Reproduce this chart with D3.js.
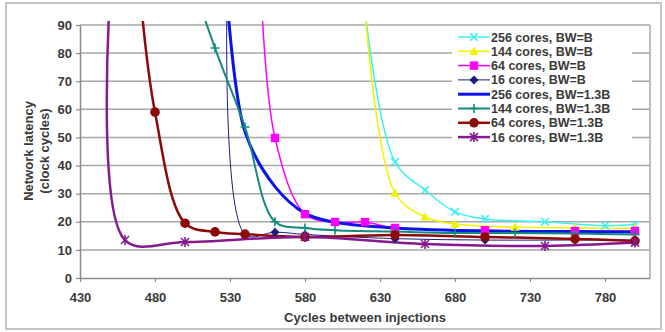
<!DOCTYPE html>
<html>
<head>
<meta charset="utf-8">
<script src="https://cdn.jsdelivr.net/npm/d3@7"></script>
<style>
  body { margin: 0; background: #fff; }
  svg { display: block; font-family: "Liberation Sans", Arial, sans-serif; }
</style>
</head>
<body>
<div id="chart"></div>
<script>
// series data (x = cycles between injections, y = latency)
const seriesNames = [
    "256 cores, BW=B", "144 cores, BW=B", "64 cores, BW=B", "16 cores, BW=B",
    "256 cores, BW=1.3B", "144 cores, BW=1.3B", "64 cores, BW=1.3B", "16 cores, BW=1.3B"
];
const x256B = [620, 640, 660, 680, 700, 740, 780, 800];
const y256B = [95, 41.3, 31.3, 23.5, 21, 20, 18.6, 19];
const x144B = [620, 640, 660, 680, 720, 760, 800];
const y144B = [95, 30.2, 21.7, 19.2, 18.1, 17.8, 17.6];
const x64B = [550, 560, 580, 600, 620, 640, 700, 760, 800];
const y64B = [110, 49.8, 22.7, 19.9, 19.9, 17.8, 17, 16.7, 16.7];
const x16B = [528, 540, 560, 580, 640, 700, 760, 800];
const y16B = [100, 15.5, 16.3, 15.5, 14, 13.5, 13.5, 13.5];
const x256H = [528, 540, 560, 580, 600, 640, 700, 760, 800];
const y256H = [100, 52, 32.5, 23, 19.8, 17.8, 16.7, 16.5, 16.4];
const x144H = [500, 520, 540, 560, 580, 600, 640, 680, 720, 760, 800];
const y144H = [113, 81.8, 53.7, 20, 17.8, 17, 16.5, 16, 16, 15.8, 15.5];
const x64H = [470, 480, 500, 520, 540, 580, 640, 700, 760, 800];
const y64H = [102, 59, 19.5, 16.4, 15.6, 14.6, 15.3, 14.6, 13.9, 13.2];
const x16H = [450, 460, 500, 580, 660, 740, 800];
const y16H = [100, 13.5, 12.8, 14.6, 12.1, 11.4, 12.6];

const xTicks = [430, 480, 530, 580, 630, 680, 730, 780];
const yTicks = [0, 10, 20, 30, 40, 50, 60, 70, 80, 90];

// styles, same order as seriesNames
const styles = [
    { color: "#40f0f0", width: 1.5, marker: "x" },
    { color: "#f2f200", width: 1.5, marker: "triangle" },
    { color: "#ff00ff", width: 1.5, marker: "square" },
    { color: "#1c1c80", width: 1, marker: "diamond" },
    { color: "#0a14e6", width: 3, marker: null },
    { color: "#138a7e", width: 2, marker: "plus" },
    { color: "#8b0a0a", width: 2.5, marker: "circle" },
    { color: "#851a8f", width: 2.5, marker: "star" }
];

const xs = [x256B, x144B, x64B, x16B, x256H, x144H, x64H, x16H];
const ys = [y256B, y144B, y64B, y16B, y256H, y144H, y64H, y16H];
const series = seriesNames.map((name, i) => ({
    name: name,
    style: styles[i],
    values: xs[i].map((x, j) => ({ x: x, y: ys[i][j] }))
}));

const W = 665, H = 332;
const margin = { top: 25, right: 15, bottom: 54, left: 80 };
const width = W - margin.left - margin.right;
const height = H - margin.top - margin.bottom;

const svg = d3.select("#chart").append("svg")
    .attr("width", W)
    .attr("height", H);

// outer frame
svg.append("rect")
    .attr("x", 6).attr("y", 3)
    .attr("width", 655).attr("height", 326)
    .attr("fill", "none")
    .attr("stroke", "#c4c4c4")
    .attr("stroke-width", 2);

const g = svg.append("g")
    .attr("transform", "translate(" + margin.left + "," + margin.top + ")");

const x = d3.scaleLinear().domain([430, 810]).range([0, width]);
const y = d3.scaleLinear().domain([0, 90]).range([height, 0]);

// gridlines
g.append("g")
    .selectAll("line")
    .data(yTicks.filter(d => d > 0))
    .join("line")
    .attr("x1", 0).attr("x2", width)
    .attr("y1", d => y(d)).attr("y2", d => y(d))
    .attr("stroke", "#a8a8a8")
    .attr("stroke-width", 1.5);

// right border of plot area
g.append("line")
    .attr("x1", width).attr("x2", width)
    .attr("y1", 0).attr("y2", height)
    .attr("stroke", "#a8a8a8")
    .attr("stroke-width", 1.5);

// legend background, covers the gridlines
const legend = g.append("g").attr("transform", "translate(372,3)");
legend.append("rect")
    .attr("x", 0).attr("y", 0)
    .attr("width", 180).attr("height", 132)
    .attr("fill", "#fff");

// axes
const xAxis = g.append("g")
    .attr("transform", "translate(0," + height + ")")
    .call(d3.axisBottom(x).tickValues(xTicks).tickSize(4).tickSizeOuter(0));
const yAxis = g.append("g")
    .call(d3.axisLeft(y).tickValues(yTicks).tickSize(4).tickSizeOuter(0));

[xAxis, yAxis].forEach(a => {
    a.select(".domain").attr("stroke", "#8a8a8a").attr("stroke-width", 1.5);
    a.selectAll(".tick line").attr("stroke", "#8a8a8a").attr("stroke-width", 1.2);
    a.selectAll("text")
        .attr("fill", "#3a3a3a")
        .attr("font-size", 13)
        .attr("font-weight", "bold")
        .attr("font-family", "Liberation Sans, Arial, sans-serif");
});
xAxis.selectAll("text").attr("dy", null).attr("y", 24);
yAxis.selectAll("text").attr("x", -8);

// axis titles
svg.append("text")
    .attr("x", 365).attr("y", 322)
    .attr("text-anchor", "middle")
    .attr("font-size", 13).attr("font-weight", "bold").attr("fill", "#3a3a3a")
    .text("Cycles between injections");

svg.append("text")
    .attr("transform", "translate(33,151) rotate(-90)")
    .attr("text-anchor", "middle")
    .attr("font-size", 13).attr("font-weight", "bold").attr("fill", "#3a3a3a")
    .text("Network latency");
svg.append("text")
    .attr("transform", "translate(49,151) rotate(-90)")
    .attr("text-anchor", "middle")
    .attr("font-size", 13).attr("font-weight", "bold").attr("fill", "#3a3a3a")
    .text("(clock cycles)");

// clip for curves
svg.append("clipPath").attr("id", "plot-clip")
    .append("rect")
    .attr("x", 0).attr("y", -4)
    .attr("width", width).attr("height", height + 6);

const line = d3.line()
    .x(d => x(d.x))
    .y(d => y(d.y))
    .curve(d3.curveCatmullRom.alpha(0.5));

const plot = g.append("g").attr("clip-path", "url(#plot-clip)");

// all lines first, then markers on top
plot.selectAll("path.series")
    .data(series)
    .join("path")
    .attr("class", "series")
    .attr("d", d => line(d.values))
    .attr("fill", "none")
    .attr("stroke", d => d.style.color)
    .attr("stroke-width", d => d.style.width)
    .attr("stroke-linejoin", "round");

function drawMarker(sel, type, color) {
    if (type === "circle") {
        sel.append("circle").attr("r", 4.8).attr("fill", color);
    } else if (type === "square") {
        sel.append("rect").attr("x", -4.2).attr("y", -4.2)
            .attr("width", 8.4).attr("height", 8.4).attr("fill", color);
    } else if (type === "diamond") {
        sel.append("path").attr("d", "M0,-4.5L4.5,0L0,4.5L-4.5,0Z").attr("fill", color);
    } else if (type === "triangle") {
        sel.append("path").attr("d", "M0,-4.8L4.6,3.6L-4.6,3.6Z").attr("fill", color);
    } else if (type === "x") {
        sel.append("path").attr("d", "M-3.8,-3.8L3.8,3.8M-3.8,3.8L3.8,-3.8")
            .attr("stroke", color).attr("stroke-width", 1.6);
    } else if (type === "plus") {
        sel.append("path").attr("d", "M-4.5,0L4.5,0M0,-4.5L0,4.5")
            .attr("stroke", color).attr("stroke-width", 1.6);
    } else if (type === "star") {
        sel.append("path").attr("d", "M-4,-4L4,4M-4,4L4,-4M0,-5L0,5")
            .attr("stroke", color).attr("stroke-width", 1.6);
    }
}

series.forEach(s => {
    if (!s.style.marker) return;
    plot.append("g")
        .selectAll("g")
        .data(s.values.filter(d => d.y <= 90))
        .join("g")
        .attr("transform", d => "translate(" + x(d.x) + "," + y(d.y) + ")")
        .each(function () { drawMarker(d3.select(this), s.style.marker, s.style.color); });
});

// legend entries
const rowH = 14.3;
series.forEach((s, i) => {
    const row = legend.append("g").attr("transform", "translate(0," + (9 + i * rowH) + ")");
    row.append("line")
        .attr("x1", 6).attr("x2", 38)
        .attr("stroke", s.style.color)
        .attr("stroke-width", s.style.width);
    if (s.style.marker) {
        const m = row.append("g").attr("transform", "translate(22,0)");
        drawMarker(m, s.style.marker, s.style.color);
    }
    row.append("text")
        .attr("x", 39).attr("y", 4.5)
        .attr("font-size", 12.5).attr("font-weight", "bold").attr("fill", "#3a3a3a")
        .text(s.name);
});
</script>
</body>
</html>
